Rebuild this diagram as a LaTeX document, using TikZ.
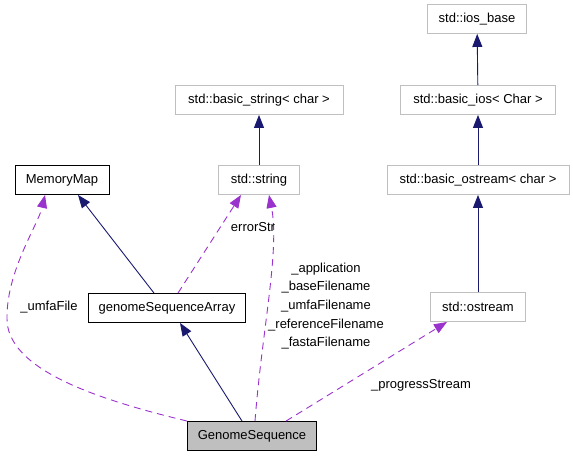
\documentclass[tikz,border=0pt]{standalone}
\usepackage{fontspec}
\setmainfont{Liberation Sans}
\usepackage{xcolor}
\usetikzlibrary{arrows.meta}
\definecolor{inhblue}{HTML}{191970}
\definecolor{usepurple}{HTML}{9A32CD}
\definecolor{extgray}{HTML}{BFBFBF}
\definecolor{gsgray}{HTML}{BFBFBF}
\begin{document}
\begin{tikzpicture}[x=1pt,y=-1pt,
  cls/.style={draw=black,line width=0.9pt,inner xsep=0pt,minimum height=29pt,font=\fontsize{13}{15}\selectfont},
  ext/.style={cls,draw=extgray},
  lbl/.style={inner sep=0pt,align=center,font=\fontsize{13}{18.7}\selectfont},
  inh/.style={draw=inhblue,line width=0.9pt,-{Triangle[length=13pt,width=10pt]}},
  use/.style={draw=usepurple,line width=0.9pt,dash pattern=on 7pt off 5pt,-{Triangle[length=13pt,width=10pt]}}]
\useasboundingbox (0,0) rectangle (573,456);
\node[ext,minimum width=99pt]  (iosb) at (477,19)  {std::ios\_base};
\node[ext,minimum width=155pt] (bios) at (478,100) {std::basic\_ios< Char >};
\node[ext,minimum width=182pt] (bost) at (478,180) {std::basic\_ostream< char >};
\node[ext,minimum width=95pt]  (ost)  at (478,307) {std::ostream};
\node[ext,minimum width=168pt] (bstr) at (259,100) {std::basic\_string< char >};
\node[ext,minimum width=81pt]  (str)  at (259,180) {std::string};
\node[cls,minimum width=94pt]  (mm)   at (62,180)  {MemoryMap};
\node[cls,minimum width=157pt] (gsa)  at (167,308) {genomeSequenceArray};
\node[cls,fill=gsgray,minimum width=129pt] (gs) at (252,436) {GenomeSequence};
\draw[inh] (bios) -- (iosb);
\draw[inh] (bost) -- (bios);
\draw[inh] (ost) -- (bost);
\draw[inh] (str) -- (bstr);
\draw[inh] ([xshift=-13pt]gsa.north) -- ([xshift=16pt]mm.south);
\draw[inh] ([xshift=-10pt]gs.north) -- ([xshift=13pt]gsa.south);
\draw[use] (gs.north west) .. controls (100,400) and (5,370) .. (7,317)
  .. controls (7,270) and (38,225) .. ([xshift=-17pt]mm.south);
\draw[use] ([xshift=11pt]gsa.north) -- ([xshift=-18pt]str.south);
\draw[use] ([xshift=3pt]gs.north) .. controls (262,330) and (280,250) .. ([xshift=10pt]str.south);
\draw[use] ([xshift=34pt]gs.north) -- ([xshift=-31pt]ost.south);
\node[lbl] (lumfa) at (49,307) {\_umfaFile};
\node[lbl] (lerr) at (253,227) {errorStr};
\node[lbl] (lnames) at (326,306) {\_application\\\_baseFilename\\\_umfaFilename\\\_referenceFilename\\\_fastaFilename};
\node[lbl] (lprog) at (421,385) {\_progressStream};
\end{tikzpicture}
\end{document}
